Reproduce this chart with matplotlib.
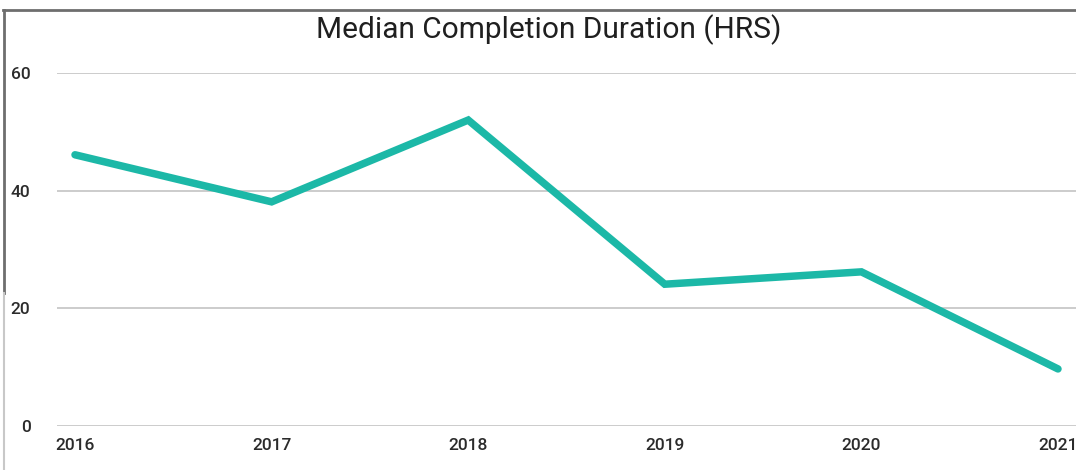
import matplotlib
matplotlib.use('Agg')
import matplotlib.pyplot as plt
from matplotlib.lines import Line2D

years = ['2016', '2017', '2018', '2019', '2020', '2021']
median_hrs = [46.1, 38.1, 52.0, 24.1, 26.2, 9.7]
y_ticks = [0, 20, 40, 60]

fig = plt.figure(figsize=(10.76, 4.70), dpi=100)
ax = fig.add_axes([57 / 1076, 44 / 470, 1 - 57 / 1076, (426 - 73) / 470])

x = list(range(len(years)))
for t in y_ticks:
    ax.axhline(t, color='#c8c8c8', lw=1.3, zorder=1)
ax.plot(x, median_hrs, color='#1cb8a7', lw=5.4, solid_capstyle='round',
        solid_joinstyle='miter', zorder=3, clip_on=False)

ax.set_xlim(-0.0916, len(years) - 1 + 0.0916)
ax.set_ylim(0, 60)
for s in ax.spines.values():
    s.set_visible(False)

ax.set_xticks(x)
ax.set_xticklabels(years)
ax.set_yticks(y_ticks)
ax.tick_params(length=0, labelsize=12.5, labelcolor='#2b2b2b')
ax.tick_params(axis='x', pad=9)
ax.tick_params(axis='y', pad=19)
for lab in ax.get_xticklabels() + ax.get_yticklabels():
    lab.set_fontfamily('Roboto')
    lab.set_fontweight('medium')

fig.text(549 / 1076, 1 - 30 / 470, 'Median Completion Duration (HRS)', ha='center', va='center',
         fontsize=21.5, color='#1f1f1f', family='Roboto')

# frame edges
fig.add_artist(Line2D([3 / 1076, 1], [1 - 9.5 / 470] * 2, color='#6e6e6e', lw=2))
fig.add_artist(Line2D([3.5 / 1076] * 2, [1 - 9.5 / 470, 177 / 470], color='#6e6e6e', lw=2))
fig.add_artist(Line2D([3.5 / 1076] * 2, [177 / 470, 0], color='#c8c8c8', lw=1.5))

fig.savefig('out.png', dpi=100)
